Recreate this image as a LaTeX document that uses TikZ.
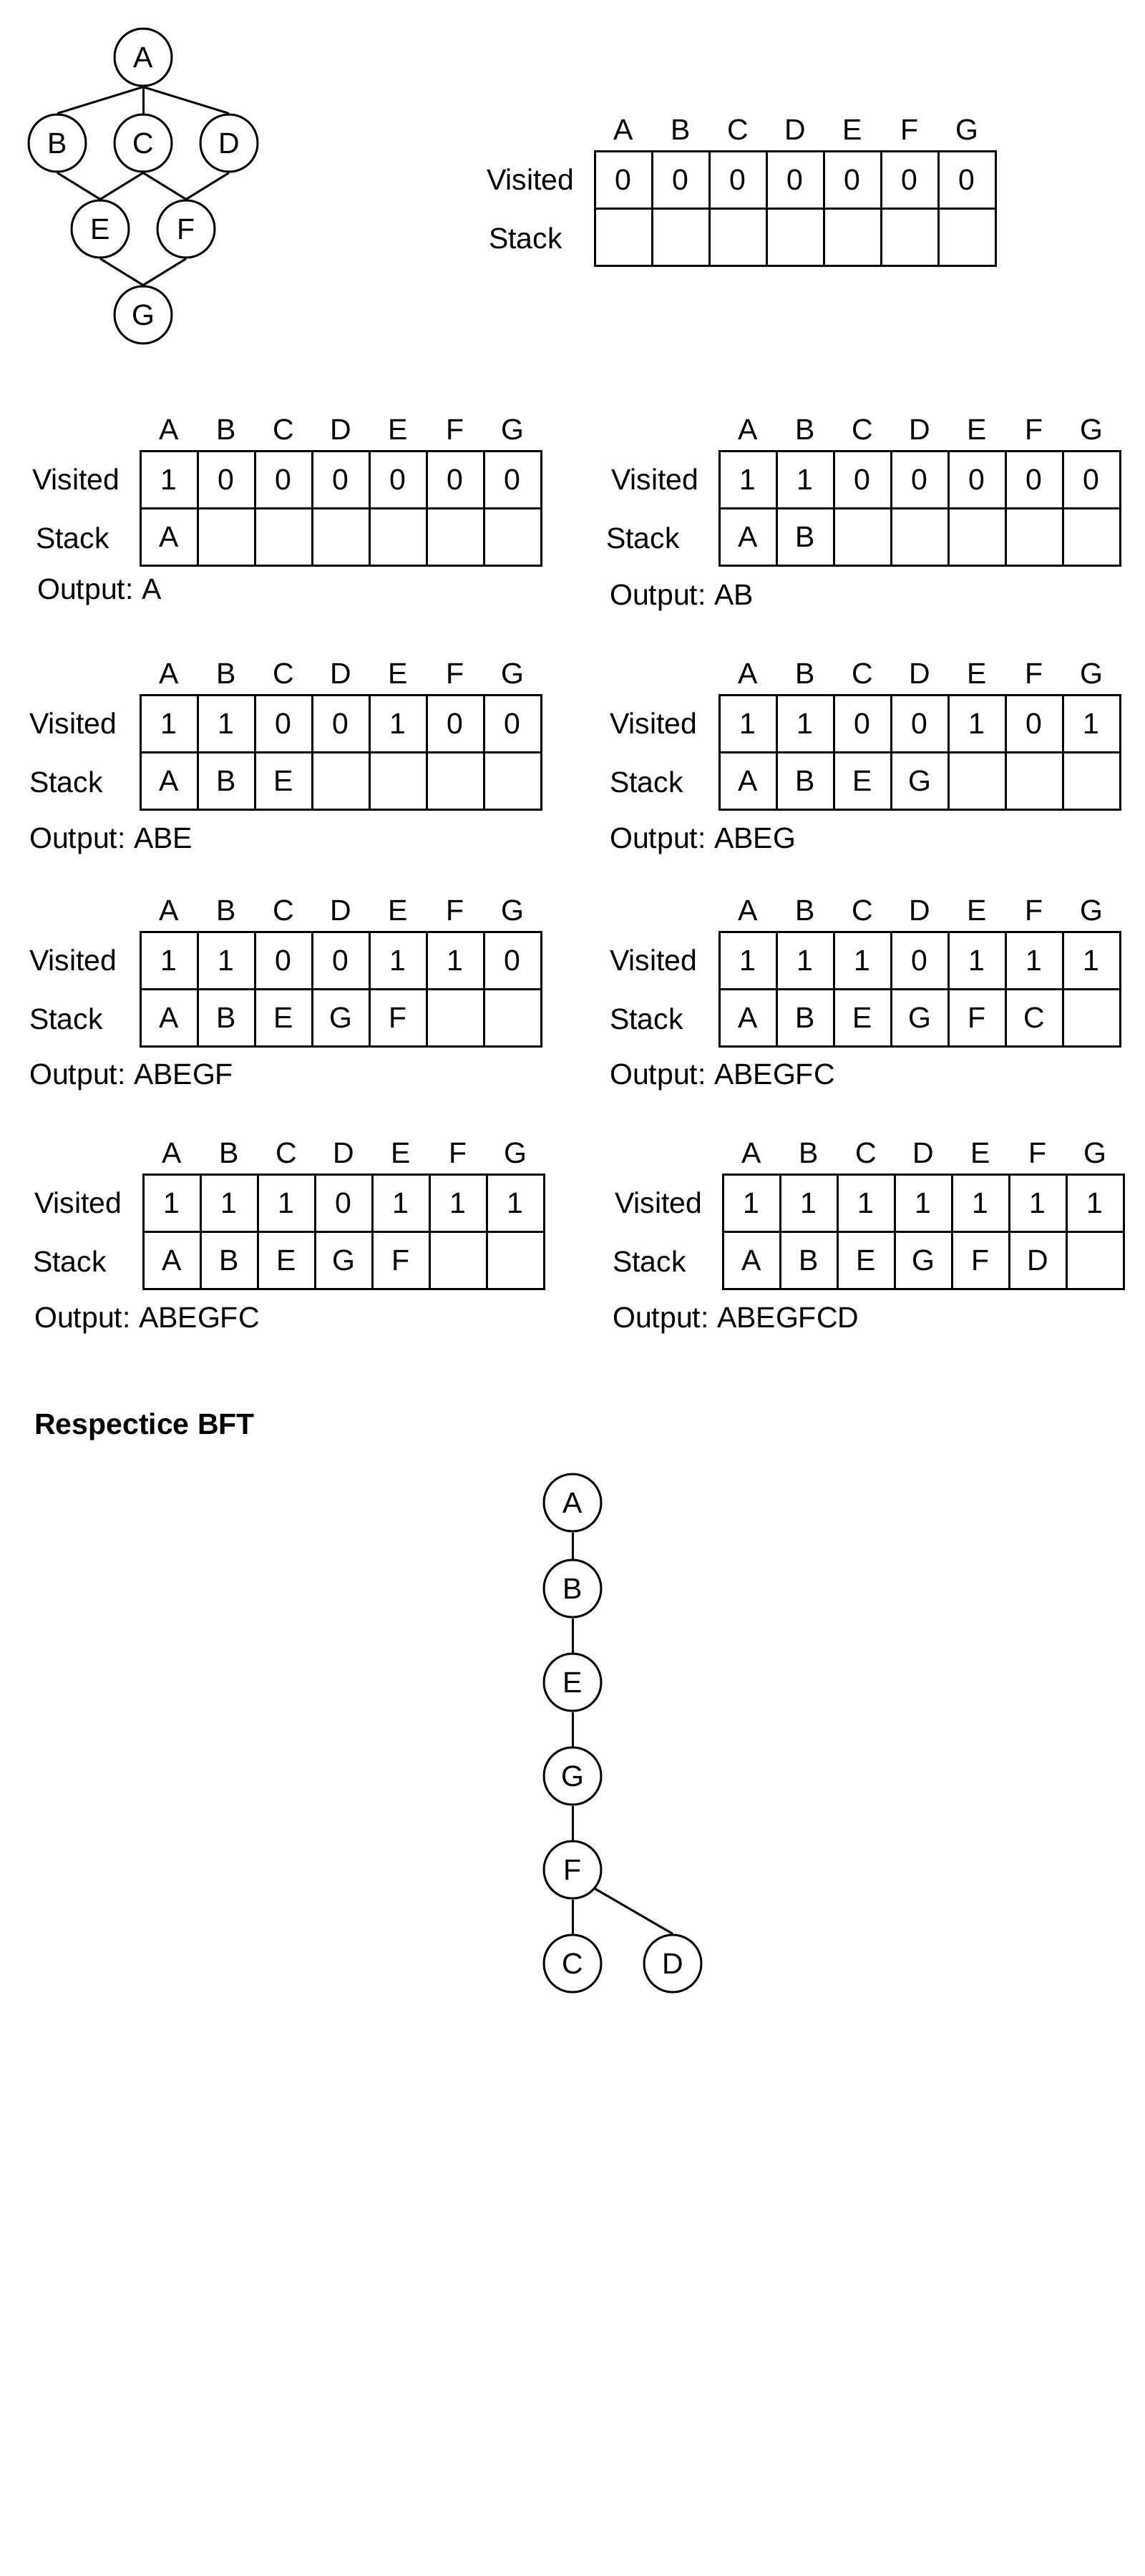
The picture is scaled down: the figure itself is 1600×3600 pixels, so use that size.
\documentclass[tikz,border=0pt]{standalone}
\usepackage{fontspec}
\setmainfont{Liberation Sans}
\frenchspacing
\tikzset{
  every node/.style={font=\fontsize{41}{49}\selectfont\frenchspacing, inner sep=0pt},
  gnode/.style={circle, draw, line width=3pt, minimum size=80pt, inner sep=0pt},
  cell/.style={draw, line width=3pt, minimum width=80pt, minimum height=80pt},
  hdr/.style={anchor=base},
  lbl/.style={anchor=base west},
  edge/.style={line width=3pt},
}
\newcommand\dfstab[5]{%
  \foreach \h [count=\i] in {A,B,C,D,E,F,G}
    \node[hdr] (#1h\i) at ({#2+80*\i-40},{#3-16}) {\h};
  \foreach \v [count=\i] in {#4}
    \node[cell] (#1v\i) at ({#2+80*\i-40},{#3+40}) {\v};
  \foreach \s [count=\i] in {#5}
    \node[cell] (#1s\i) at ({#2+80*\i-40},{#3+120}) {\s};
}
\begin{document}
\begin{tikzpicture}[x=1pt,y=-1pt]
\fill[white] (0,0) rectangle (1600,3600);
\useasboundingbox (0,0) rectangle (1600,3600);

% top graph
\node[gnode] (gA) at (200,80) {A};
\node[gnode] (gB) at (80,200) {B};
\node[gnode] (gC) at (200,200) {C};
\node[gnode] (gD) at (320,200) {D};
\node[gnode] (gE) at (140,320) {E};
\node[gnode] (gF) at (260,320) {F};
\node[gnode] (gG) at (200,440) {G};
\draw[edge] (gA.south) -- (gB.north);
\draw[edge] (gA.south) -- (gC.north);
\draw[edge] (gA.south) -- (gD.north);
\draw[edge] (gB.south) -- (gE.north);
\draw[edge] (gC.south) -- (gE.north);
\draw[edge] (gC.south) -- (gF.north);
\draw[edge] (gD.south) -- (gF.north);
\draw[edge] (gE.south) -- (gG.north);
\draw[edge] (gF.south) -- (gG.north);

% table 0
\dfstab{t0}{831}{211}{0,0,0,0,0,0,0}{{},{},{},{},{},{},{}}
\node[lbl] (t0vis) at (680,265) {Visited};
\node[lbl] (t0stk) at (683,347) {Stack};

% table 1
\dfstab{t1}{196}{630}{1,0,0,0,0,0,0}{A,{},{},{},{},{},{}}
\node[lbl] (t1vis) at (45,684) {Visited};
\node[lbl] (t1stk) at (50,766) {Stack};
\node[lbl] (t1out) at (52,837) {Output: A};

% table 2
\dfstab{t2}{1005}{630}{1,1,0,0,0,0,0}{A,B,{},{},{},{},{}}
\node[lbl] (t2vis) at (854,684) {Visited};
\node[lbl] (t2stk) at (847,766) {Stack};
\node[lbl] (t2out) at (852,845) {Output: AB};

% table 3
\dfstab{t3}{196}{971}{1,1,0,0,1,0,0}{A,B,E,{},{},{},{}}
\node[lbl] (t3vis) at (41,1025) {Visited};
\node[lbl] (t3stk) at (41,1107) {Stack};
\node[lbl] (t3out) at (41,1185) {Output: ABE};

% table 4
\dfstab{t4}{1005}{971}{1,1,0,0,1,0,1}{A,B,E,G,{},{},{}}
\node[lbl] (t4vis) at (852,1025) {Visited};
\node[lbl] (t4stk) at (852,1107) {Stack};
\node[lbl] (t4out) at (852,1185) {Output: ABEG};

% table 5
\dfstab{t5}{196}{1302}{1,1,0,0,1,1,0}{A,B,E,G,F,{},{}}
\node[lbl] (t5vis) at (41,1356) {Visited};
\node[lbl] (t5stk) at (41,1438) {Stack};
\node[lbl] (t5out) at (41,1515) {Output: ABEGF};

% table 6
\dfstab{t6}{1005}{1302}{1,1,1,0,1,1,1}{A,B,E,G,F,C,{}}
\node[lbl] (t6vis) at (852,1356) {Visited};
\node[lbl] (t6stk) at (852,1438) {Stack};
\node[lbl] (t6out) at (852,1515) {Output: ABEGFC};

% table 7
\dfstab{t7}{200}{1641}{1,1,1,0,1,1,1}{A,B,E,G,F,{},{}}
\node[lbl] (t7vis) at (48,1695) {Visited};
\node[lbl] (t7stk) at (46,1777) {Stack};
\node[lbl] (t7out) at (48,1855) {Output: ABEGFC};

% table 8
\dfstab{t8}{1010}{1641}{1,1,1,1,1,1,1}{A,B,E,G,F,D,{}}
\node[lbl] (t8vis) at (859,1695) {Visited};
\node[lbl] (t8stk) at (856,1777) {Stack};
\node[lbl] (t8out) at (856,1855) {Output: ABEGFCD};

% BFT heading
\node[lbl, font=\fontsize{41}{49}\selectfont\bfseries] (head) at (48,2004) {Respectice BFT};

% BFT tree
\node[gnode] (bA) at (800,2100) {A};
\node[gnode] (bB) at (800,2220) {B};
\node[gnode] (bE) at (800,2351) {E};
\node[gnode] (bG) at (800,2482) {G};
\node[gnode] (bF) at (800,2613) {F};
\node[gnode] (bC) at (800,2744) {C};
\node[gnode] (bD) at (940,2744) {D};
\draw[edge] (bA.south) -- (bB.north);
\draw[edge] (bB.south) -- (bE.north);
\draw[edge] (bE.south) -- (bG.north);
\draw[edge] (bG.south) -- (bF.north);
\draw[edge] (bF.south) -- (bC.north);
\draw[edge] (bF.-40) -- (bD.north);
\end{tikzpicture}
\end{document}
